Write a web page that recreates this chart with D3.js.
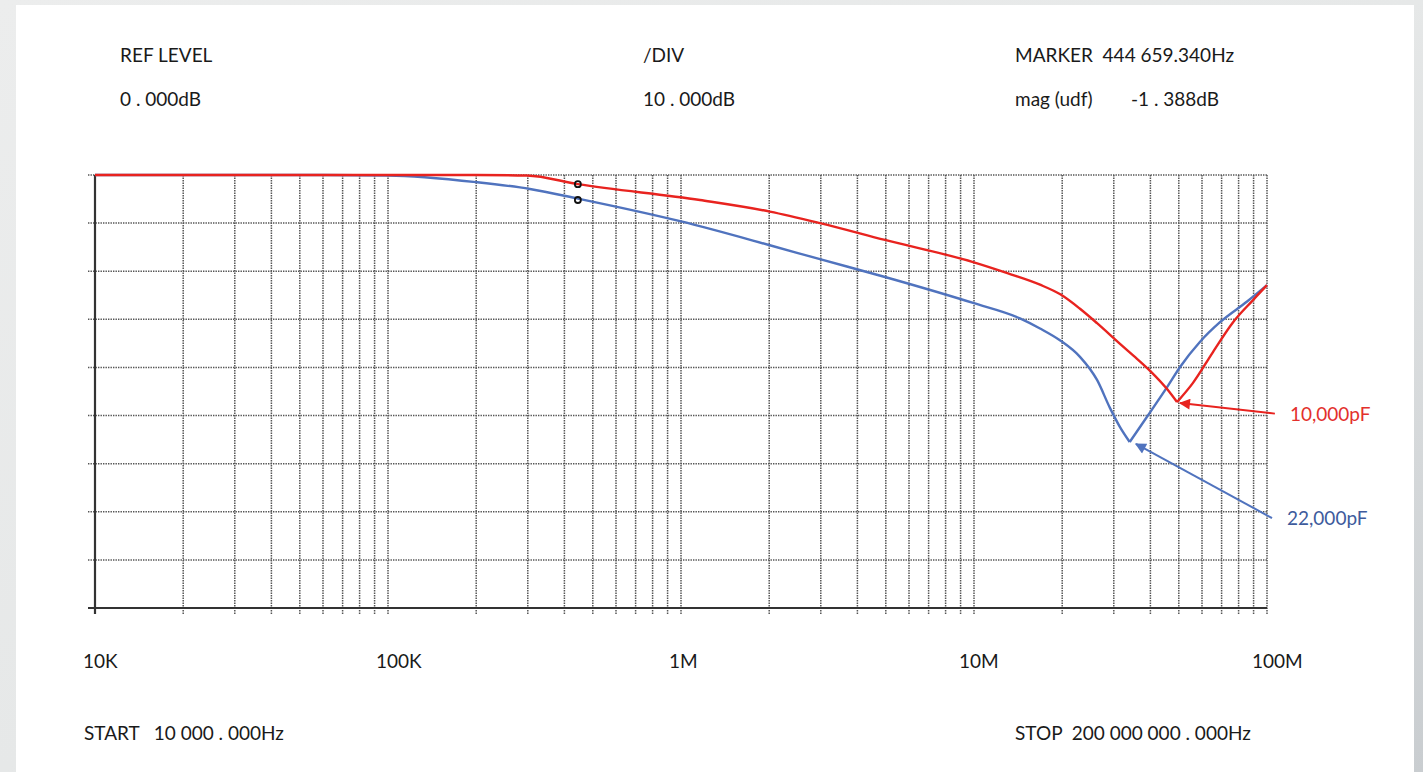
<!DOCTYPE html>
<html><head><meta charset="utf-8">
<script src="https://cdn.jsdelivr.net/npm/d3@7"></script>
<style>
html,body{margin:0;padding:0;overflow:hidden;}
svg{display:block;}
text{font-family:Lato,"Open Sans",sans-serif;fill:#1a1a1a;white-space:pre;}
</style></head>
<body>
<svg id="c" width="1423" height="772"></svg>
<script>
// ---- data ----
const decadeTicks = [1e4, 1e5, 1e6, 1e7, 1e8];
const decadeLabels = ["10K", "100K", "1M", "10M", "100M"];
const dbTicks = [0, -10, -20, -30, -40, -50, -60, -70, -80, -90];

// 10,000pF trace (Hz, dB)
const redFreq = [1e4, 5e4, 1e5, 2e5, 2.98e5, 4.447e5, 1.161e6, 2.01e6, 2.98e6, 4.97e6, 9.93e6, 1.30e7, 1.68e7, 1.97e7, 2.30e7, 2.63e7, 3.15e7, 3.60e7, 3.99e7, 4.56e7, 4.93e7, 5.59e7, 6.54e7, 7.66e7, 8.96e7, 1e8];
const redDb   = [0, 0, 0, 0, -0.1, -1.9, -5.2, -7.6, -10.0, -13.5, -18.1, -20.4, -22.8, -24.8, -27.8, -30.8, -35.1, -38.2, -40.7, -44.5, -47.2, -43.2, -36.8, -30.6, -26.0, -22.9];

// 22,000pF trace (Hz, dB)
const blueFreq = [1e4, 5e4, 1e5, 2.01e5, 3.05e5, 4.447e5, 9.93e5, 2.01e6, 2.98e6, 4.97e6, 9.93e6, 1.435e7, 1.68e7, 1.97e7, 2.30e7, 2.63e7, 2.91e7, 3.15e7, 3.40e7, 3.89e7, 4.56e7, 5.05e7, 5.90e7, 6.91e7, 8.55e7, 1e8];
const blueDb   = [0, 0, -0.1, -1.5, -2.9, -4.9, -9.6, -14.6, -17.5, -21.2, -26.6, -29.8, -31.9, -34.4, -37.8, -42.6, -48.4, -52.4, -55.5, -50.3, -44.1, -39.9, -34.7, -30.6, -26.3, -22.9];

// marker points at 444 659.340 Hz
const markerFreq = [4.4466e5, 4.4466e5];
const markerDb = [-1.9, -5.2];

// annotation labels
const annoNames = ["10,000pF", "22,000pF"];
const annoTip = [[5.05e7, -47.4], [3.57e7, -55.9]];
const annoTail = [[1.064e8, -49.6], [1.04e8, -71.3]];

const headerTexts = [["REF LEVEL", "0 . 000dB"], ["/DIV", "10 . 000dB"], ["MARKER  444 659.340Hz", "mag (udf)"]];
const markerValue = "-1 . 388dB";
const startText = "START   10 000 . 000Hz";
const stopText = "STOP  200 000 000 . 000Hz";

// ---- drawing ----
const svg = d3.select("#c");
const defs = svg.append("defs");
const bg = defs.append("linearGradient").attr("id","bg").attr("x1","0").attr("y1","0").attr("x2","1").attr("y2","1");
bg.append("stop").attr("offset","0").attr("stop-color","#eceded");
bg.append("stop").attr("offset","0.5").attr("stop-color","#e6e8e8");
bg.append("stop").attr("offset","1").attr("stop-color","#c9cdd0");
svg.append("rect").attr("width",1423).attr("height",772).attr("fill","url(#bg)");
svg.append("rect").attr("x",16).attr("y",5).attr("width",1398).attr("height",767).attr("fill","#fff");

const RED = "#e8231f", BLUE = "#5073be";
[["arR", RED], ["arB", BLUE]].forEach(([id, c]) => {
  defs.append("marker").attr("id", id).attr("viewBox","0 0 10 10").attr("refX",9).attr("refY",5)
    .attr("markerWidth",6.5).attr("markerHeight",5.5).attr("orient","auto")
    .attr("markerUnits","strokeWidth")
    .append("path").attr("d","M0,0L10,5L0,10Z").attr("fill", c);
});

const x = d3.scaleLog().domain([1e4, 1e8]).range([95, 1267]);
const y = d3.scaleLinear().domain([0, -90]).range([175, 608]);

// grid
const vlines = [];
for (let d = 1e4; d < 1e8; d *= 10) for (let m = 1; m < 10; m++) vlines.push(d * m);
vlines.push(1e8);
const g = svg.append("g");
const GRID = "#555";
g.selectAll(".vg").data(vlines.slice(1)).join("line")
  .attr("x1", d => x(d)).attr("x2", d => x(d)).attr("y1", y(0)).attr("y2", y(-90) + 6)
  .attr("stroke", GRID).attr("stroke-width", 1.5).attr("stroke-dasharray", "1.4,1.1");
g.selectAll(".hg").data(dbTicks.slice(0, -1)).join("line")
  .attr("x1", x(1e4) - 7).attr("x2", x(1e8)).attr("y1", d => y(d)).attr("y2", d => y(d))
  .attr("stroke", GRID).attr("stroke-width", 1.5).attr("stroke-dasharray", "1.4,1.1");
// axes
g.append("line").attr("x1", x(1e4)).attr("x2", x(1e4)).attr("y1", y(0)).attr("y2", y(-90) + 6)
  .attr("stroke", "#333").attr("stroke-width", 2.2);
g.append("line").attr("x1", x(1e4) - 7).attr("x2", x(1e8)).attr("y1", y(-90)).attr("y2", y(-90))
  .attr("stroke", "#333").attr("stroke-width", 2.2);

// traces: split at the notch so the corner stays sharp
const line = d3.line().x(d => x(d[0])).y(d => y(d[1])).curve(d3.curveMonotoneX);
function drawTrace(freq, db, color) {
  const pts = freq.map((f, i) => [f, db[i]]);
  const iMin = d3.minIndex(db);
  [pts.slice(0, iMin + 1), pts.slice(iMin)].forEach(seg => {
    svg.append("path").datum(seg).attr("d", line)
      .attr("fill", "none").attr("stroke", color).attr("stroke-width", 2.4)
      .attr("stroke-linejoin", "round");
  });
}
drawTrace(blueFreq, blueDb, BLUE);
drawTrace(redFreq, redDb, RED);

// markers
svg.selectAll(".mk").data(markerFreq.map((f, i) => [f, markerDb[i]])).join("circle")
  .attr("cx", d => x(d[0])).attr("cy", d => y(d[1])).attr("r", 3)
  .attr("fill", "none").attr("stroke", "#111").attr("stroke-width", 1.8);

// annotations
const annoColors = [RED, BLUE], annoText = ["#e3302c", "#3e5b9c"], annoMk = ["arR", "arB"];
annoNames.forEach((n, i) => {
  svg.append("line").attr("x1", x(annoTail[i][0])).attr("y1", y(annoTail[i][1]))
    .attr("x2", x(annoTip[i][0])).attr("y2", y(annoTip[i][1]))
    .attr("stroke", annoColors[i]).attr("stroke-width", 2).attr("marker-end", "url(#" + annoMk[i] + ")");
  svg.append("text").attr("x", x(annoTail[i][0]) + 15).attr("y", y(annoTail[i][1]) + 7)
    .attr("font-size", 19).style("fill", annoText[i]).text(n);
});

// header texts
const FS = 19;
const hx = [120, 643, 1015];
headerTexts.forEach((pair, i) => {
  svg.append("text").attr("x", hx[i]).attr("y", 62).attr("font-size", FS).text(pair[0]);
  svg.append("text").attr("x", hx[i]).attr("y", 106).attr("font-size", FS).text(pair[1]);
});
svg.append("text").attr("x", 1131).attr("y", 106).attr("font-size", FS).text(markerValue);

// decade labels
svg.selectAll(".dl").data(decadeTicks).join("text")
  .attr("x", (d, i) => x(d) - 12 - (i >= 3 ? 3 : 0)).attr("y", 668).attr("font-size", FS)
  .text((d, i) => decadeLabels[i]);

svg.append("text").attr("x", 84).attr("y", 740).attr("font-size", FS).text(startText);
svg.append("text").attr("x", 1015).attr("y", 740).attr("font-size", FS).text(stopText);
</script>
</body></html>
